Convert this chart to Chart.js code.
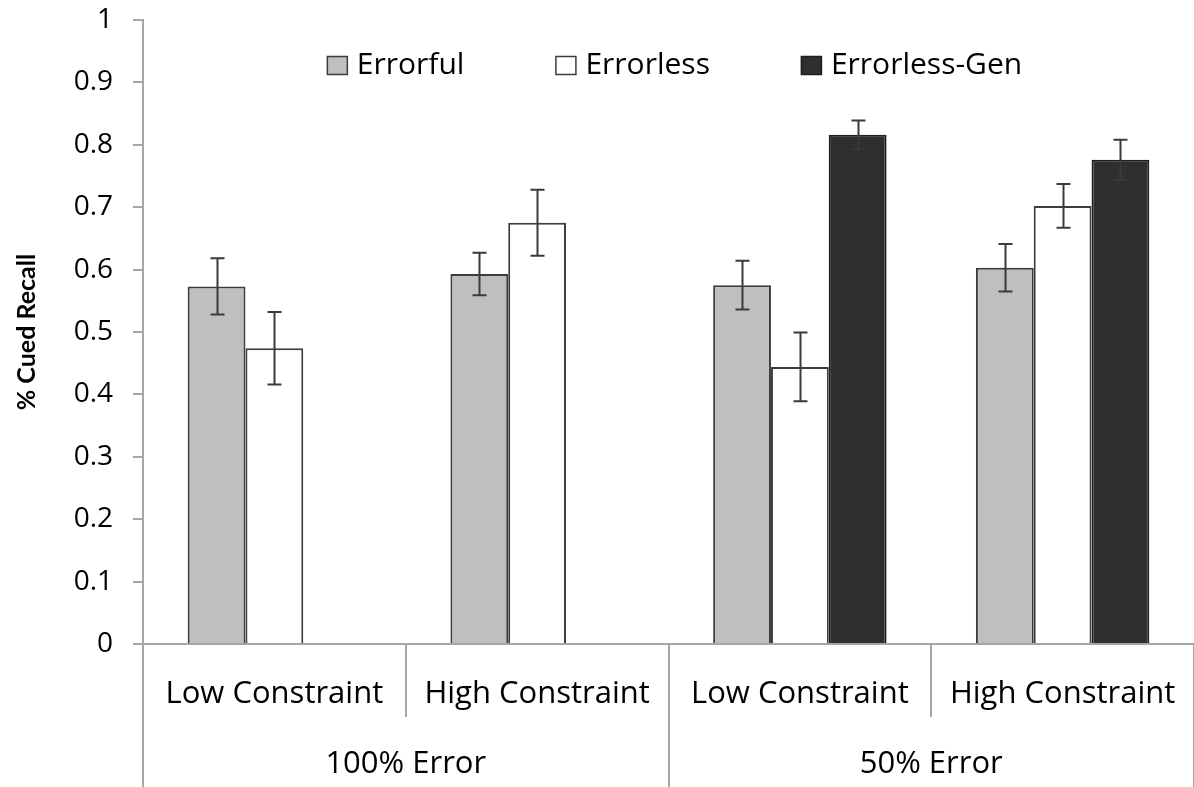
<!DOCTYPE html>
<html lang="en">
<head>
  <meta charset="UTF-8" />
  <title>% Cued Recall</title>
  <style>
    html, body { margin: 0; padding: 0; background: #fff; }
    #wrap { width: 1194px; height: 787px; position: relative; }
  </style>
</head>
<body>
  <div id="wrap"><canvas id="chart"></canvas></div>

  <script src="https://cdn.jsdelivr.net/npm/chart.js@4.4.1/dist/chart.umd.min.js"></script>
  <script>
    const categories = ['Low Constraint', 'High Constraint', 'Low Constraint', 'High Constraint'];
    const groups = ['100% Error', '50% Error'];
    const seriesNames = ['Errorful', 'Errorless', 'Errorless-Gen'];

    const errorful = [0.573, 0.593, 0.575, 0.603];
    const errorfulErr = [0.045, 0.034, 0.039, 0.038];
    const errorless = [0.474, 0.675, 0.444, 0.702];
    const errorlessErr = [0.058, 0.053, 0.055, 0.035];
    const errorlessGen = [null, null, 0.816, 0.776];
    const errorlessGenErr = [null, null, 0.023, 0.032];

    const yTicks = [0, 0.1, 0.2, 0.3, 0.4, 0.5, 0.6, 0.7, 0.8, 0.9, 1];

    const FONT = '"Open Sans", "Noto Sans", sans-serif';
    const axisGray = '#a6a6a6';

    // error bars, drawn from the y scale
    const errorBars = {
      id: 'errorBars',
      afterDatasetsDraw(chart) {
        const ctx = chart.ctx;
        const y = chart.scales.y;
        ctx.save();
        ctx.strokeStyle = '#3a3a3a';
        ctx.lineWidth = 2;
        chart.data.datasets.forEach((ds, di) => {
          const meta = chart.getDatasetMeta(di);
          meta.data.forEach((bar, i) => {
            const v = ds.data[i], e = ds.errors[i];
            if (v == null || e == null) return;
            const top = y.getPixelForValue(v + e);
            const bot = y.getPixelForValue(v - e);
            const x = Math.round(bar.x) + 0.5;
            ctx.beginPath();
            ctx.moveTo(x, top); ctx.lineTo(x, bot);
            ctx.moveTo(x - 7, top); ctx.lineTo(x + 7, top);
            ctx.moveTo(x - 7, bot); ctx.lineTo(x + 7, bot);
            ctx.stroke();
          });
        });
        ctx.restore();
      }
    };

    // two-level category axis: dividers and group names
    const groupAxis = {
      id: 'groupAxis',
      afterDraw(chart) {
        const ctx = chart.ctx;
        const x = chart.scales.x;
        const area = chart.chartArea;
        const step = (area.right - area.left) / categories.length;
        ctx.save();
        ctx.strokeStyle = axisGray;
        ctx.lineWidth = 2;
        for (let i = 0; i <= categories.length; i++) {
          const px = Math.round(area.left + i * step);
          const long = i % 2 === 0;
          ctx.beginPath();
          ctx.moveTo(px, area.bottom);
          ctx.lineTo(px, long ? chart.height : area.bottom + 73);
          ctx.stroke();
        }
        ctx.fillStyle = '#000';
        ctx.font = '31px ' + FONT;
        ctx.textAlign = 'center';
        ctx.textBaseline = 'middle';
        groups.forEach((g, gi) => {
          const cx = (x.getPixelForValue(gi * 2) + x.getPixelForValue(gi * 2 + 1)) / 2;
          ctx.fillText(g, cx, 764);
        });
        ctx.restore();
      }
    };

    // legend sitting inside the plot area
    const innerLegend = {
      id: 'innerLegend',
      afterDraw(chart) {
        const ctx = chart.ctx;
        const area = chart.chartArea;
        ctx.save();
        ctx.font = '30px ' + FONT;
        ctx.textBaseline = 'middle';
        const box = 21, gap = 9, spacing = 91;
        const items = chart.data.datasets.map(ds => ({
          label: ds.label, fill: ds.backgroundColor, stroke: ds.borderColor,
          w: ctx.measureText(ds.label).width
        }));
        const total = items.reduce((s, it) => s + box + gap + it.w, 0) + spacing * (items.length - 1);
        let px = (area.left + area.right) / 2 + 6 - total / 2;
        const cy = 65;
        items.forEach(it => {
          ctx.fillStyle = it.fill;
          ctx.fillRect(px, cy - 9, box, 19);
          ctx.strokeStyle = it.stroke;
          ctx.lineWidth = 1.5;
          ctx.strokeRect(px + 0.5, cy - 9 + 0.5, box - 1, 18);
          ctx.fillStyle = '#000';
          ctx.fillText(it.label, px + box + gap, cy);
          px += box + gap + it.w + spacing;
        });
        ctx.restore();
      }
    };

    const values = [errorful, errorless, errorlessGen];
    const errs = [errorfulErr, errorlessErr, errorlessGenErr];
    const fills = ['#bfbfbf', '#ffffff', '#2f2f2f'];
    const borders = ['#3c3c3c', '#3c3c3c', '#1e1e1e'];

    new Chart(document.getElementById('chart'), {
      type: 'bar',
      data: {
        labels: categories,
        datasets: seriesNames.map((name, i) => ({
          label: name,
          data: values[i],
          errors: errs[i],
          backgroundColor: fills[i],
          borderColor: borders[i],
          borderWidth: 2,
          borderSkipped: 'bottom',
          categoryPercentage: 0.66,
          barPercentage: 1.0
        }))
      },
      options: {
        responsive: true,
        maintainAspectRatio: false,
        animation: false,
        devicePixelRatio: 1,
        layout: { padding: { top: 20, right: 0, left: 0, bottom: 0 } },
        plugins: {
          legend: { display: false },
          tooltip: { enabled: false }
        },
        scales: {
          x: {
            grid: { display: false },
            border: { display: true, color: axisGray, width: 2 },
            ticks: { color: '#000', font: { family: FONT, size: 31 }, padding: 24, maxRotation: 0, autoSkip: false },
            afterFit(scale) {
              scale.height = 143;
              scale.paddingLeft = 0;
              scale.paddingRight = 0;
            }
          },
          y: {
            min: 0,
            max: 1,
            afterBuildTicks(scale) { scale.ticks = yTicks.map(v => ({ value: v })); },
            grid: { drawOnChartArea: false, drawTicks: true, tickLength: 10, color: axisGray, lineWidth: 2 },
            border: { display: true, color: axisGray, width: 2 },
            ticks: {
              color: '#000', font: { family: FONT, size: 28 }, padding: 20,
              callback: v => String(Math.round(v * 10) / 10)
            },
            title: {
              display: true,
              text: '% Cued Recall',
              color: '#000',
              font: { family: 'Lato, sans-serif', size: 25, weight: 'bold' },
              padding: { top: 12, bottom: 0 }
            },
            afterFit(scale) {
              scale.width = 143;
              scale.paddingTop = 10;
              scale.paddingBottom = 10;
            }
          }
        }
      },
      plugins: [errorBars, groupAxis, innerLegend]
    });
  </script>
</body>
</html>
